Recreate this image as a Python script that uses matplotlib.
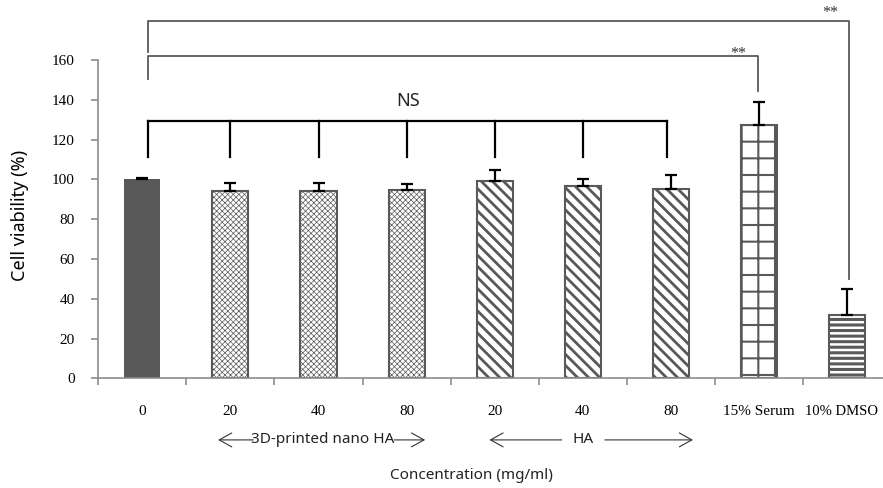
import matplotlib
matplotlib.use('Agg')
import matplotlib.pyplot as plt
import matplotlib.transforms as mtransforms
import numpy as np

# values
labels = ['0', '20', '40', '80', '20', '40', '80', '15% Serum', '10% DMSO']
viability = [100.0, 94.1, 93.9, 94.4, 99.1, 96.8, 94.9, 127.1, 31.7]
err_up = [0.5, 4.2, 4.2, 3.2, 5.4, 3.2, 7.1, 11.9, 13.3]

# NS bracket over control + all HA groups
ns_x = [0.56, 1.5, 2.5, 3.5, 4.5, 5.5, 6.45]
ns_top, ns_drop = 129.5, 111.0

# significance brackets: (left x, right x, height, left drop, right drop)
sig_brackets = [
    (0.56, 7.49, 162.0, 150.5, 144.6),
    (0.56, 8.52, 179.8, 164.2, 49.8),
]
sig_text = [(7.26, 163.0), (8.31, 183.5)]

serif = 'Liberation Serif'
sans = 'Noto Sans'
dark = '#595959'
axis_grey = '#8c8c8c'

fig = plt.figure(figsize=(8.83, 4.88), dpi=100)
ax = fig.add_axes([0.1113, 0.2248, 0.898, 0.7746])

x = np.arange(len(labels)) + 0.5
styles = [
    dict(color=dark, hatch=None, hlw=1.0),
    dict(color='white', hatch='xxxxxx', hlw=0.5),
    dict(color='white', hatch='xxxxxx', hlw=0.5),
    dict(color='white', hatch='xxxxxx', hlw=0.5),
    dict(color='white', hatch='\\\\\\', hlw=2.0),
    dict(color='white', hatch='\\\\\\', hlw=2.0),
    dict(color='white', hatch='\\\\\\', hlw=2.0),
    dict(color='white', hatch='+', hlw=1.5),
    dict(color='white', hatch='---', hlw=2.2),
]

for xi, v, st in zip(x, viability, styles):
    old = plt.rcParams['hatch.linewidth']
    plt.rcParams['hatch.linewidth'] = st['hlw']
    b = ax.bar(xi, v, width=0.41, color=st['color'], edgecolor=dark,
               hatch=st['hatch'], linewidth=1.5 if st['hatch'] else 0, zorder=2)
    for p in b.patches:
        if hasattr(p, 'set_hatch_linewidth'):
            p.set_hatch_linewidth(st['hlw'])
    plt.rcParams['hatch.linewidth'] = old

ax.errorbar(x, viability, yerr=[np.zeros(len(x)), err_up], fmt='none',
            ecolor='black', elinewidth=1.6, capsize=4.3, capthick=1.6, zorder=3)

# NS bracket
ax.plot([ns_x[0], ns_x[-1]], [ns_top, ns_top], color='black', lw=1.6,
        solid_capstyle='projecting', zorder=4)
for bx in ns_x:
    ax.plot([bx, bx], [ns_drop, ns_top], color='black', lw=1.6, zorder=4)
ax.text(3.52, 139.5, 'NS', ha='center', va='center', fontsize=13,
        family=sans, color='#222222')

for (x0, x1, h, d0, d1) in sig_brackets:
    ax.plot([x0, x0, x1, x1], [d0, h, h, d1], color=dark, lw=1.3,
            clip_on=False, zorder=4)
for (tx, ty) in sig_text:
    ax.text(tx, ty, '**', ha='center', va='center', fontsize=11.5,
            family=serif, color='#333333', clip_on=False)

ax.set_xlim(0, 9)
ax.set_ylim(0, 190)

for s in ['top', 'right']:
    ax.spines[s].set_visible(False)
for s in ['left', 'bottom']:
    ax.spines[s].set_color(axis_grey)
    ax.spines[s].set_linewidth(1.2)
ax.spines['left'].set_bounds(0, 160)

ax.set_yticks(np.arange(0, 161, 20))
ax.tick_params(axis='y', direction='out', length=5, width=1.2, color=axis_grey,
               pad=12, labelsize=11)
for t in ax.get_yticklabels():
    t.set_family(serif)

ax.set_xticks(np.arange(0, 10))
ax.set_xticklabels([])
ax.tick_params(axis='x', which='major', direction='out', length=5, width=1.2,
               color=axis_grey)
ax.set_xticks(x, minor=True)
ax.set_xticklabels(labels, minor=True, family=serif, fontsize=11)
ax.tick_params(axis='x', which='minor', length=0, pad=19)
# last label runs into the figure edge; nudge it left so it stays whole
last = ax.get_xticklabels(minor=True)[-1]
last.set_transform(last.get_transform() +
                   mtransforms.ScaledTranslation(-6 / 100, 0, fig.dpi_scale_trans))
last.set_fontsize(10.5)

ax.set_ylabel('Cell viability (%)', family=sans, fontsize=13, labelpad=20)
ax.yaxis.set_label_coords(-0.087, 0.43)

# group labels with arrows under the ticks
trans = mtransforms.blended_transform_factory(ax.transData, ax.transAxes)
gy = -0.163
arrow_kw = dict(arrowstyle='->,head_length=0.9,head_width=0.5', lw=0.8,
                color='#333333', shrinkA=0, shrinkB=0)
ax.text(2.55, gy, '3D-printed nano HA', transform=trans, ha='center',
        va='center', family=sans, fontsize=11, color='#222222')
ax.annotate('', xy=(1.36, gy), xytext=(1.76, gy), xycoords=trans,
            textcoords=trans, arrowprops=arrow_kw, annotation_clip=False)
ax.annotate('', xy=(3.71, gy), xytext=(3.36, gy), xycoords=trans,
            textcoords=trans, arrowprops=arrow_kw, annotation_clip=False)
ax.text(5.5, gy, 'HA', transform=trans, ha='center', va='center',
        family=sans, fontsize=11, color='#222222')
ax.annotate('', xy=(4.44, gy), xytext=(5.26, gy), xycoords=trans,
            textcoords=trans, arrowprops=arrow_kw, annotation_clip=False)
ax.annotate('', xy=(6.75, gy), xytext=(5.75, gy), xycoords=trans,
            textcoords=trans, arrowprops=arrow_kw, annotation_clip=False)

ax.text(4.24, -0.258, 'Concentration (mg/ml)', transform=trans, ha='center',
        va='center', family=sans, fontsize=11, color='#222222')

fig.savefig('out.png', dpi=100)
